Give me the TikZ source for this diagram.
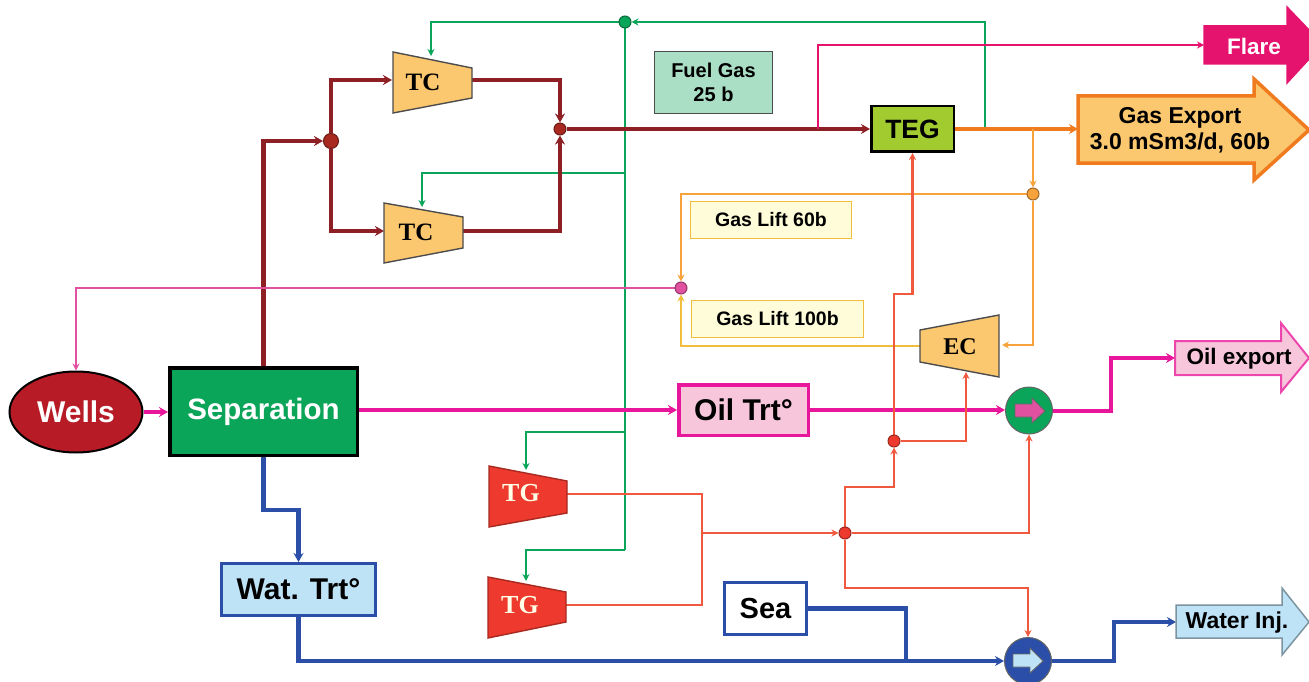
\documentclass[tikz,border=0pt]{standalone}
\usepackage{fontspec}
\setmainfont{Liberation Sans}
\newfontfamily\serifb{Liberation Serif}
\usetikzlibrary{arrows.meta,shapes.geometric}
\pgfdeclarelayer{bg}
\pgfsetlayers{bg,main}
\definecolor{cDred}{HTML}{8E1F24}
\definecolor{cMag}{HTML}{E8169A}
\definecolor{cPink}{HTML}{E0529F}
\definecolor{cLpink}{HTML}{F8C6DA}
\definecolor{cBlue}{HTML}{2B4FA8}
\definecolor{cLblue}{HTML}{BFE3F6}
\definecolor{cGreen}{HTML}{0BA55A}
\definecolor{cCoral}{HTML}{F0593E}
\definecolor{cOrange}{HTML}{F7A23B}
\definecolor{cDorange}{HTML}{F07A1E}
\definecolor{cYel}{HTML}{F0BE3C}
\definecolor{cTrap}{HTML}{FBC76F}
\definecolor{cRed}{HTML}{EE3A2E}
\definecolor{cWell}{HTML}{B71C26}
\definecolor{cTeg}{HTML}{A2CB30}
\definecolor{cFlare}{HTML}{E5126E}
\tikzset{
  x=1pt,y=-1pt,
  every node/.style={font=\bfseries},
  box/.style={rectangle,inner sep=0pt,anchor=north west,align=center},
  flow/.style={line join=miter},
  tipA/.style={-{Stealth[length=9pt,width=10pt]}},
  tipB/.style={-{Stealth[length=7pt,width=7pt]}},
  thickred/.style={flow,cDred,line width=4.4pt,tipA},
  thickmag/.style={flow,cMag,line width=4pt,tipA},
  thickblue/.style={flow,cBlue,line width=4.2pt,tipA},
  gline/.style={flow,cGreen,line width=2.7pt,tipB},
  cline/.style={flow,cCoral,line width=2.5pt,tipB},
  oline/.style={flow,cOrange,line width=2.2pt,tipB},
  junction/.style={circle,draw=#1!65!black,fill=#1,line width=1pt,minimum size=12pt,inner sep=0pt},
  trap/.style={draw=#1,line width=1.4pt,line join=miter},
  sertext/.style={font=\serifb\bfseries\fontsize{25}{25}\selectfont},
  bigarrow/.style={line join=miter,line width=#1},
}
\begin{document}
\begin{tikzpicture}
\useasboundingbox (0,0) rectangle (1309,682);
% ---- trapezoids
\fill[cTrap,trap=black!70] (393,52)--(472,68)--(472,98)--(393,113)--cycle;
\fill[cTrap,trap=black!70] (384,203)--(463,217)--(463,248)--(384,263)--cycle;
\fill[cTrap,trap=black!70] (920,330)--(999,315)--(999,377)--(920,362)--cycle;
\fill[cRed,trap=cRed!70!black] (489,466)--(567,481)--(567,513)--(489,527)--cycle;
\fill[cRed,trap=cRed!70!black] (488,577)--(566,592)--(566,622)--(488,638)--cycle;
\node[sertext] (tc1) at (423,82) {TC};
\node[sertext] (tc2) at (416,232) {TC};
\node[sertext,font=\serifb\bfseries\fontsize{24}{24}\selectfont] (ec) at (960,347) {EC};
\node[sertext,text=white!90!yellow,font=\serifb\bfseries\fontsize{26}{26}\selectfont] (tg1) at (521,493) {TG};
\node[sertext,text=white!90!yellow,font=\serifb\bfseries\fontsize{26}{26}\selectfont] (tg2) at (520,605) {TG};
% ---- ports
\coordinate (tc1in) at (392,80);
\coordinate (tc1out) at (472,80);
\coordinate (tc1fuel) at (431,56);
\coordinate (tc2in) at (384,231);
\coordinate (tc2out) at (463,231);
\coordinate (tc2fuel) at (422,207);
\coordinate (ecL) at (920,346);
\coordinate (ecR) at (1002,345);
\coordinate (ecB) at (966,372);
\coordinate (tg1out) at (566,494);
\coordinate (tg2out) at (566,605);
\coordinate (tg1fuel) at (526,470);
\coordinate (tg2fuel) at (526,581);
\coordinate (flareIn) at (1204,45);
\coordinate (oilIn) at (1175,358);
\coordinate (wiIn) at (1176,622);
\coordinate (gasIn) at (1078,129);
\coordinate (mainv) at (625,550);
\coordinate (br1) at (625,173);
\coordinate (br2) at (625,432);
\coordinate (flaretap) at (818,129);
\coordinate (fueltap) at (985,129);
\coordinate (gastap) at (1033,129);
\coordinate (cv1) at (702,494);
\coordinate (cv2) at (702,605);
\coordinate (cv) at (702,533);
\coordinate (seatap) at (906,661);
\coordinate (ftop) at (912,294);
% ---- export arrows
\fill[bigarrow=1.5pt,draw=cFlare,fill=cFlare] (1204,26)--(1287,26)--(1287,7)--(1309,30)--(1322,45)--(1287,83)--(1287,64)--(1204,64)--cycle;
\node (flare) at (1254,46) {\textcolor{white}{\fontsize{22.5}{22.5}\selectfont Flare}};
\fill[bigarrow=3.5pt,draw=cDorange,fill=cTrap] (1078,96)--(1254,96)--(1254,79)--(1309,130)--(1254,180)--(1254,163)--(1078,163)--cycle;
\node[align=center,font=\bfseries\fontsize{23}{26}\selectfont] (gas) at (1180,130) {Gas Export\\3.0 mSm3/d, 60b};
\fill[bigarrow=2pt,draw=cMag!80,fill=cLpink] (1175,341)--(1281,341)--(1281,323)--(1309,358)--(1281,392)--(1281,375)--(1175,375)--cycle;
\node[font=\bfseries\fontsize{22.5}{22}\selectfont] (oilx) at (1239,359) {Oil export};
\fill[bigarrow=1.5pt,draw=black!35!cLblue,fill=cLblue] (1176,605)--(1282,605)--(1282,588)--(1309,622)--(1282,655)--(1282,638)--(1176,638)--cycle;
\node[font=\bfseries\fontsize{23}{22}\selectfont] (wi) at (1237,623) {Water Inj.};
% ---- boxes
\node[ellipse,draw=black,line width=2pt,fill=cWell,minimum width=133pt,minimum height=81pt,inner sep=0pt,text=white,font=\bfseries\fontsize{30}{30}\selectfont] (wells) at (76,412) {Wells};
\node[box,draw=black,line width=3.5pt,fill=cGreen,minimum width=187.5pt,minimum height=87.5pt,text=white,font=\bfseries\fontsize{29.5}{29.5}\selectfont] (sep) at (168,366) {\raisebox{-2pt}{Separation}};
\node[box,draw=cBlue,line width=3pt,fill=cLblue,minimum width=154pt,minimum height=52pt,font=\bfseries\fontsize{30}{30}\selectfont] (wat) at (220,562) {Wat. Trt°};
\node[box,draw=cMag,line width=3.5pt,fill=cLpink,minimum width=129.5pt,minimum height=50.5pt,font=\bfseries\fontsize{30}{30}\selectfont] (oil) at (677,383) {Oil Trt°};
\node[box,draw=cBlue,line width=3pt,fill=white,minimum width=82pt,minimum height=52pt,font=\bfseries\fontsize{29}{29}\selectfont] (sea) at (723,581) {Sea};
\node[box,draw=black,line width=2.5pt,fill=cTeg,minimum width=82.5pt,minimum height=45.5pt,font=\bfseries\fontsize{26.5}{26.5}\selectfont] (teg) at (870,105) {TEG};
\node[box,draw=black!70,line width=1pt,fill=cGreen!35!white,minimum width=118pt,minimum height=62pt,font=\bfseries\fontsize{20}{24}\selectfont] (fuel) at (654,51) {Fuel Gas\\25 b};
\node[box,draw=cYel,line width=1pt,fill=yellow!15,minimum width=161pt,minimum height=37pt,font=\bfseries\fontsize{19.5}{19.5}\selectfont] (gl60) at (690,201) {Gas Lift 60b};
\node[box,draw=cYel,line width=1pt,fill=yellow!15,minimum width=172pt,minimum height=37pt,font=\bfseries\fontsize{19.5}{19.5}\selectfont] (gl100) at (691,300) {Gas Lift 100b};
% ---- junctions
\node[junction=cRed!70!black,minimum size=15pt] (j1) at (331,141) {};
\node[junction=cRed!70!black] (j2) at (560,129) {};
\node[junction=cGreen] (jg) at (625,22) {};
\node[junction=cOrange] (jo) at (1033,194) {};
\node[junction=cPink] (jp) at (681,288) {};
\node[junction=cRed] (jr1) at (894,441) {};
\node[junction=cRed] (jr2) at (845,533) {};
\node[ellipse,draw=black!60,line width=1pt,fill=cGreen,minimum width=47pt,minimum height=47pt,inner sep=0pt] (pump1) at (1029,410.5) {};
\node[ellipse,draw=black!60,line width=1pt,fill=cBlue,minimum width=47pt,minimum height=47pt,inner sep=0pt] (pump2) at (1028,661) {};
\fill[draw=black!60,line width=.8pt,fill=cPink] (1015,404)--(1032,404)--(1032,398)--(1045,411)--(1032,423)--(1032,417)--(1015,417)--cycle;
\fill[draw=black!60,line width=.8pt,fill=cLblue] (1013,654)--(1030,654)--(1030,648)--(1043,661)--(1030,673)--(1030,667)--(1013,667)--cycle;
% ---- connectors
\begin{pgfonlayer}{bg}
\draw[gline,-] (mainv) -- (jg);
\draw[gline] (fueltap) |- (jg);
\draw[gline] (jg) -| (tc1fuel);
\draw[gline] (br1) -| (tc2fuel);
\draw[gline] (br2) -| (tg1fuel);
\draw[gline] (mainv) -| (tg2fuel);
\draw[thickred] (sep.north) |- (j1);
\draw[thickred] (j1) |- (tc1in);
\draw[thickred] (j1) |- (tc2in);
\draw[thickred] (tc1out) -| (j2);
\draw[thickred] (tc2out) -| (j2);
\draw[thickred] (j2) -- (j2 -| teg.west);
\draw[flow,cFlare,line width=2.8pt,tipB] (flaretap) |- (flareIn);
\draw[flow,cDorange,line width=4pt,tipA] (teg.east |- gasIn) -- (gasIn);
\draw[oline] (gastap) -- (jo);
\draw[oline] (jo) |- (ecR);
\draw[oline] (jo) -| (jp);
\draw[flow,cYel,line width=2.2pt,tipB] (ecL) -| (jp);
\draw[flow,cPink,line width=2.2pt,tipB] (jp) -| (wells.north);
\draw[thickmag] (wells.east) -- (wells.east -| sep.west);
\draw[thickmag] (sep.east |- oil.west) -- (oil.west);
\draw[thickmag] (oil.east) -- (oil.east -| pump1.west);
\draw[thickmag] (pump1.east) -- (1111,410.5) |- (oilIn);
\draw[cline] (jr1) |- (teg.south |- ftop) -- (teg.south);
\draw[cline] (jr1) -| (ecB);
\draw[cline] (jr2) |- (894,487) -- (jr1);
\draw[cline] (jr2) -| (pump1.south);
\draw[cline] (jr2) |- (pump2.north |- 0,588) -- (pump2.north);
\draw[cline,-] (tg1out) -| (cv2) -- (tg2out);
\draw[cline] (cv) -- (jr2);
\draw[thickblue] (sep.south) -- ++(0,53) -| (wat.north);
\draw[thickblue] (wat.south) |- (pump2.west);
\draw[flow,cBlue,line width=4.2pt] (sea.east) -| (seatap);
\draw[thickblue] (pump2.east) -- (1114,661) |- (wiIn);
\end{pgfonlayer}
\end{tikzpicture}
\end{document}
